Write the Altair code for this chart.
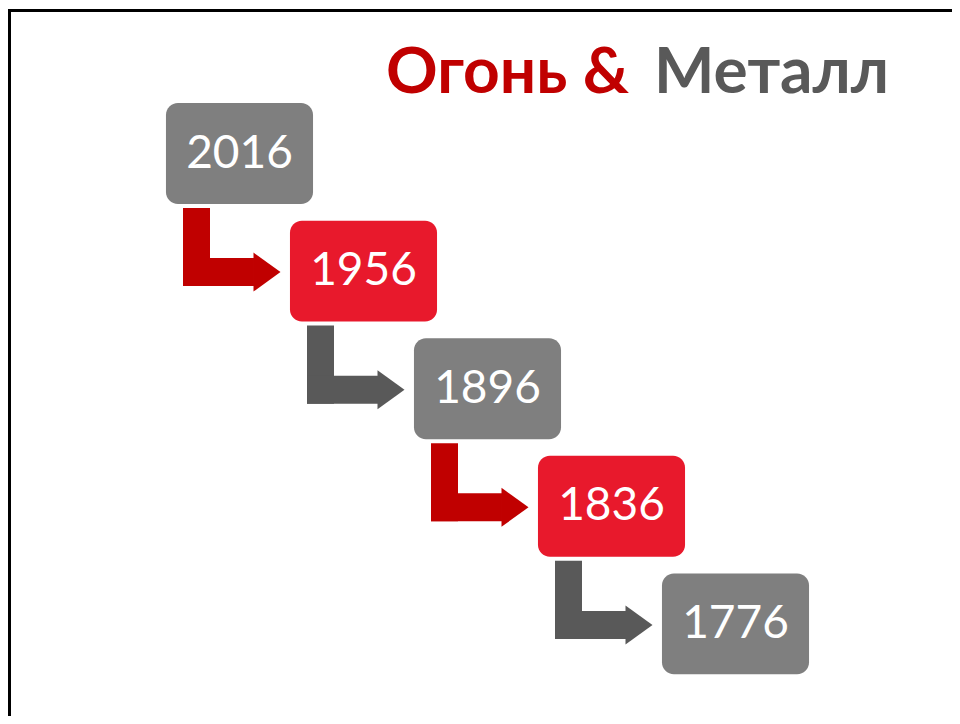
import altair as alt
import pandas as pd

# ---- data -------------------------------------------------------------
years = ["2016", "1956", "1896", "1836", "1776"]
elements = ["Металл", "Огонь", "Металл", "Огонь", "Металл"]
title_fire = "Огонь &"
title_metal = "Металл"

# ---- layout constants (not data) -------------------------------------
W, H = 944, 708
X0, DX = 231.5, 124.0      # pixel position of step 0 and pixels per step (x)
Y0, DY = 145.5, 117.6      # same for y
xdom = [-X0 / DX, (W - X0) / DX]
ydom = [-Y0 / DY, (H - Y0) / DY]

ELEM_DOMAIN = ["Металл", "Огонь"]
BOX_COLORS = ["#7F7F7F", "#E8192C"]
ARROW_COLORS = ["#595959", "#C00000"]

boxes = pd.DataFrame({"year": years, "element": elements,
                      "step": list(range(len(years)))})
arrows = pd.DataFrame({"source": years[:-1], "target": years[1:],
                       "element": elements[1:],
                       "step": list(range(len(years) - 1))})

xs = alt.Scale(domain=xdom, nice=False, zero=False)
ys = alt.Scale(domain=ydom, nice=False, zero=False, reverse=True)


def col(rng):
    return alt.Color("element:N", scale=alt.Scale(domain=ELEM_DOMAIN, range=rng),
                     legend=None)


box = alt.Chart(boxes).transform_calculate(
    bx1="datum.step - 0.593", bx2="datum.step + 0.593",
    by1="datum.step - 0.429", by2="datum.step + 0.429",
).mark_rect(cornerRadius=12).encode(
    x=alt.X("bx1:Q", scale=xs, axis=None), x2="bx2:Q",
    y=alt.Y("by1:Q", scale=ys, axis=None), y2="by2:Q",
    color=col(BOX_COLORS),
)

labels = alt.Chart(boxes).mark_text(
    font="Lato", fontSize=46, color="white", align="center", baseline="middle"
).encode(
    x=alt.X("step:Q", scale=xs, axis=None),
    y=alt.Y("step:Q", scale=ys, axis=None),
    text="year:N",
)

stem = alt.Chart(arrows).transform_calculate(
    sx1="datum.step - 0.4556", sx2="datum.step - 0.2379",
    sy1="datum.step + 0.4634", sy2="datum.step + 1.1276",
).mark_rect().encode(
    x=alt.X("sx1:Q", scale=xs, axis=None), x2="sx2:Q",
    y=alt.Y("sy1:Q", scale=ys, axis=None), y2="sy2:Q",
    color=col(ARROW_COLORS),
)

bar = alt.Chart(arrows).transform_calculate(
    hx1="datum.step - 0.4556", hx2="datum.step + 0.1169",
    hy1="datum.step + 0.8895", hy2="datum.step + 1.1276",
).mark_rect().encode(
    x=alt.X("hx1:Q", scale=xs, axis=None), x2="hx2:Q",
    y=alt.Y("hy1:Q", scale=ys, axis=None), y2="hy2:Q",
    color=col(ARROW_COLORS),
)

head = alt.Chart(arrows).transform_calculate(
    ax="datum.step + 0.2218", ay="datum.step + 1.0085",
).mark_point(
    shape="M-0.6923,-1L0.6923,0L-0.6923,1Z", size=1521, filled=True,
    opacity=1, strokeWidth=0,
).encode(
    x=alt.X("ax:Q", scale=xs, axis=None),
    y=alt.Y("ay:Q", scale=ys, axis=None),
    color=col(ARROW_COLORS),
)

one = pd.DataFrame({"fire": [title_fire], "metal": [title_metal]})
t_fire = alt.Chart(one).mark_text(
    font="Lato", fontWeight="bold", fontSize=64, color="#C00000",
    align="left", baseline="alphabetic",
).encode(x=alt.value(378), y=alt.value(85), text="fire:N")
t_metal = alt.Chart(one).mark_text(
    font="Lato", fontWeight="bold", fontSize=64, color="#595959",
    align="left", baseline="alphabetic",
).encode(x=alt.value(646), y=alt.value(85), text="metal:N")

top_rule = alt.Chart(one).mark_rule(color="black", strokeWidth=3).encode(
    x=alt.value(0), x2=alt.value(W), y=alt.value(2.5))
left_rule = alt.Chart(one).mark_rule(color="black", strokeWidth=3).encode(
    x=alt.value(1.5), y=alt.value(1), y2=alt.value(H))

chart = alt.layer(
    stem, bar, head, box, labels, t_fire, t_metal, top_rule, left_rule
).resolve_scale(color="independent").properties(
    width=W, height=H, padding=0, autosize=alt.AutoSizeParams(type="none"),
    background="white",
).configure_view(stroke=None)

chart.save("out.html", embed_options={"renderer": "svg", "actions": False})
